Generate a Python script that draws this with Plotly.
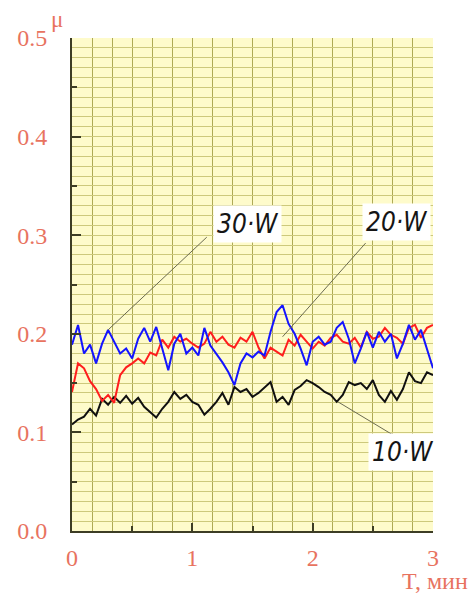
import plotly.graph_objects as go

t = [0.00, 0.05, 0.10, 0.15, 0.20, 0.25, 0.30, 0.35, 0.40, 0.45,
     0.50, 0.55, 0.60, 0.65, 0.70, 0.75, 0.80, 0.85, 0.90, 0.95,
     1.00, 1.05, 1.10, 1.15, 1.20, 1.25, 1.30, 1.35, 1.40, 1.45,
     1.50, 1.55, 1.60, 1.65, 1.70, 1.75, 1.80, 1.85, 1.90, 1.95,
     2.00, 2.05, 2.10, 2.15, 2.20, 2.25, 2.30, 2.35, 2.40, 2.45,
     2.50, 2.55, 2.60, 2.65, 2.70, 2.75, 2.80, 2.85, 2.90, 2.95, 3.00]

mu_10w = [0.108, 0.113, 0.116, 0.124, 0.117, 0.134, 0.128, 0.136, 0.130, 0.137,
          0.129, 0.135, 0.126, 0.120, 0.115, 0.124, 0.131, 0.141, 0.134, 0.138,
          0.131, 0.128, 0.118, 0.124, 0.131, 0.140, 0.128, 0.146, 0.141, 0.144,
          0.136, 0.140, 0.146, 0.151, 0.131, 0.136, 0.128, 0.143, 0.147, 0.153,
          0.150, 0.146, 0.141, 0.138, 0.131, 0.138, 0.151, 0.148, 0.150, 0.144,
          0.153, 0.138, 0.131, 0.142, 0.133, 0.144, 0.161, 0.152, 0.150, 0.161, 0.158]

mu_20w = [0.141, 0.170, 0.165, 0.152, 0.144, 0.132, 0.138, 0.130, 0.158, 0.166,
          0.170, 0.175, 0.170, 0.181, 0.178, 0.194, 0.186, 0.197, 0.192, 0.195,
          0.190, 0.186, 0.190, 0.202, 0.192, 0.197, 0.189, 0.186, 0.196, 0.192,
          0.202, 0.186, 0.175, 0.186, 0.182, 0.178, 0.194, 0.188, 0.199, 0.192,
          0.185, 0.192, 0.188, 0.196, 0.199, 0.192, 0.190, 0.196, 0.186, 0.202,
          0.195, 0.197, 0.206, 0.199, 0.196, 0.190, 0.206, 0.209, 0.196, 0.206, 0.209]

mu_30w = [0.189, 0.209, 0.180, 0.189, 0.170, 0.190, 0.204, 0.192, 0.180, 0.185,
          0.175, 0.195, 0.206, 0.192, 0.207, 0.185, 0.163, 0.190, 0.200, 0.180,
          0.186, 0.178, 0.206, 0.188, 0.180, 0.171, 0.161, 0.148, 0.170, 0.180,
          0.176, 0.182, 0.178, 0.202, 0.222, 0.229, 0.210, 0.200, 0.185, 0.168,
          0.192, 0.197, 0.189, 0.192, 0.206, 0.212, 0.195, 0.170, 0.185, 0.202,
          0.186, 0.202, 0.192, 0.200, 0.175, 0.190, 0.209, 0.194, 0.204, 0.185, 0.165]

x_ticks = [0, 1, 2, 3]
y_ticks = [0.0, 0.1, 0.2, 0.3, 0.4, 0.5]
y_tick_text = ["0.0", "0.1", "0.2", "0.3", "0.4", "0.5"]

labels = ["30·W", "20·W", "10·W"]
label_pos = [(1.46, 0.311), (2.70, 0.313), (2.75, 0.080)]
leaders = [((0.30, 0.204), (1.12, 0.298)),
           ((1.75, 0.197), (2.44, 0.292)),
           ((2.21, 0.131), (2.70, 0.095))]

SALMON = "#e8735f"
BG = "#fefbcb"
GRID_X = "#aeaa55"
GRID_Y = "#cdc97c"
AXIS = "#3d3d25"

fig = go.Figure()

# dummy trace for the grid-only base subplot
fig.add_trace(go.Scatter(x=[None], y=[None], xaxis="x", yaxis="y",
                         showlegend=False, hoverinfo="skip"))

for ys, col in [(mu_10w, "#101010"), (mu_20w, "#ff1e1e"), (mu_30w, "#1414ff")]:
    fig.add_trace(go.Scatter(x=t, y=ys, mode="lines", xaxis="x2", yaxis="y2",
                             line=dict(color=col, width=2), showlegend=False))

for (p0, p1) in leaders:
    fig.add_shape(type="line", xref="x2", yref="y2",
                  x0=p0[0], y0=p0[1], x1=p1[0], y1=p1[1],
                  line=dict(color="#6b6b50", width=1))

for txt, (xx, yy) in zip(labels, label_pos):
    fig.add_annotation(x=xx, y=yy, xref="x2", yref="y2", text="<i>" + txt + "</i>",
                       showarrow=False, bgcolor="white", borderpad=3,
                       font=dict(family="DejaVu Sans Condensed, DejaVu Sans", size=26,
                                 color="#151515"))

fig.add_annotation(x=0, y=1, xref="paper", yref="paper", xanchor="center", yanchor="bottom",
                   xshift=-15, yshift=4, text="μ", showarrow=False,
                   font=dict(family="Liberation Serif", size=23, color=SALMON))

fig.add_annotation(x=1.0, y=0, xref="paper", yref="paper", xanchor="right", yanchor="top",
                   xshift=36, yshift=-36, text="T, мин", showarrow=False, borderpad=0,
                   font=dict(family="Liberation Serif", size=24, color=SALMON))

fig.update_layout(
    width=468, height=586,
    margin=dict(l=64, r=43, t=30, b=63, autoexpand=False),
    paper_bgcolor="white", plot_bgcolor=BG,
    xaxis=dict(range=[0, 3], dtick=1 / 6, tick0=0, showgrid=True, gridcolor=GRID_X,
               gridwidth=1, showticklabels=False, ticks="", zeroline=False,
               showline=False, automargin=False),
    yaxis=dict(range=[0, 0.5], dtick=0.01, tick0=0, showgrid=True, gridcolor=GRID_Y,
               gridwidth=1, showticklabels=False, ticks="", zeroline=False,
               showline=False, automargin=False),
    xaxis2=dict(range=[0, 3], overlaying="x", tickmode="array", tickvals=x_ticks,
                ticks="inside", ticklen=8, tickwidth=2, tickcolor=AXIS,
                minor=dict(dtick=0.5, ticks="inside", ticklen=5, tickwidth=1.5,
                           tickcolor=AXIS, showgrid=False),
                showgrid=False, zeroline=False, showline=True, linecolor=AXIS, linewidth=2,
                automargin=False, ticklabelstandoff=4,
                tickfont=dict(family="Liberation Serif", size=24, color=SALMON)),
    yaxis2=dict(range=[0, 0.5], overlaying="y", tickmode="array", tickvals=y_ticks,
                ticktext=y_tick_text,
                ticks="inside", ticklen=9, tickwidth=2, tickcolor=AXIS,
                minor=dict(dtick=0.05, ticks="inside", ticklen=5, tickwidth=1.5,
                           tickcolor=AXIS, showgrid=False),
                showgrid=False, zeroline=False, showline=True, linecolor=AXIS, linewidth=2,
                automargin=False, ticklabelstandoff=18,
                tickfont=dict(family="Liberation Serif", size=24, color=SALMON)),
)

fig.write_html("out.html")
